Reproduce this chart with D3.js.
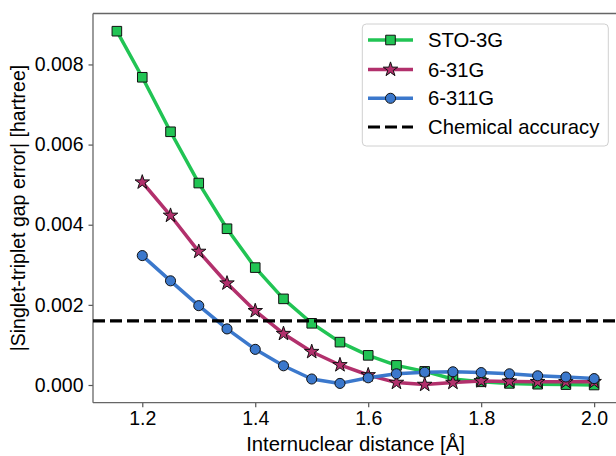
<!DOCTYPE html>
<html>
<head>
<meta charset="utf-8">
<script src="https://cdn.jsdelivr.net/npm/d3@7"></script>
<style>
  body { margin: 0; background: #fff; }
  svg { display: block; font-family: "Liberation Sans", Arial, sans-serif; }
</style>
</head>
<body>
<svg id="chart" width="616" height="456"></svg>
<script>
// ---- data ----
const xSTO = [1.155, 1.2, 1.25, 1.3, 1.35, 1.4, 1.45, 1.5, 1.55, 1.6, 1.65, 1.7, 1.75, 1.8, 1.85, 1.9, 1.95, 2.0];
const ySTO = [0.00883, 0.00768, 0.00632, 0.00504, 0.0039, 0.00293, 0.00215, 0.00154, 0.00107, 0.00074, 0.00049, 0.00034, 0.00015, 0.00008, 0.00004, 0.00002, 0.00001, 0.0];
const x631 = [1.2, 1.25, 1.3, 1.35, 1.4, 1.45, 1.5, 1.55, 1.6, 1.65, 1.7, 1.75, 1.8, 1.85, 1.9, 1.95, 2.0];
const y631 = [0.00506, 0.00423, 0.00333, 0.00254, 0.00185, 0.00128, 0.00083, 0.0005, 0.00025, 0.00006, 0.00001, 0.00006, 0.0001, 0.00009, 0.00008, 0.00008, 0.00008];
const x6311 = [1.2, 1.25, 1.3, 1.35, 1.4, 1.45, 1.5, 1.55, 1.6, 1.65, 1.7, 1.75, 1.8, 1.85, 1.9, 1.95, 2.0];
const y6311 = [0.00323, 0.0026, 0.00198, 0.0014, 0.00089, 0.00048, 0.00015, 0.00004, 0.00018, 0.00028, 0.00032, 0.00033, 0.00031, 0.00028, 0.00023, 0.0002, 0.00016];
const chemAcc = 0.0016;
const seriesNames = ["STO-3G", "6-31G", "6-311G"];
const accName = "Chemical accuracy";
const xTicks = [1.2, 1.4, 1.6, 1.8, 2.0];
const yTicks = [0.000, 0.002, 0.004, 0.006, 0.008];
const xLabel = "Internuclear distance [Å]";
const yLabel = "|Singlet-triplet gap error| [hartree]";

// ---- styles ----
const colors = ["#21c454", "#b2306c", "#3b78cc"];
const shapes = ["square", "star", "circle"];
const FS = 19.5, FL = 20.3;

const svg = d3.select("#chart");
const L = 93, R = 618, T = 13.5, B = 402.7;

const xmin = 1.155, xmax = 2.0, xpad = (xmax - xmin) * 0.05;
const x = d3.scaleLinear().domain([xmin - xpad, xmax + xpad]).range([L, R]);
const ymaxD = 0.00883, ypad = ymaxD * 0.05;
const y = d3.scaleLinear().domain([-ypad, ymaxD + ypad]).range([B, T]);

const series = [
  { name: seriesNames[0], xs: xSTO, ys: ySTO },
  { name: seriesNames[1], xs: x631, ys: y631 },
  { name: seriesNames[2], xs: x6311, ys: y6311 }
];

function markerPath(shape) {
  if (shape === "square") return d3.symbol(d3.symbolSquare, 92)();
  if (shape === "circle") return d3.symbol(d3.symbolCircle, 80)();
  const ro = 7.6, ri = ro * 0.381966;
  const pts = [];
  for (let i = 0; i < 10; i++) {
    const r = i % 2 === 0 ? ro : ri;
    const a = -Math.PI / 2 + i * Math.PI / 5;
    pts.push([r * Math.cos(a), r * Math.sin(a)]);
  }
  return "M" + pts.map(p => p[0].toFixed(2) + "," + p[1].toFixed(2)).join("L") + "Z";
}

// axes
const gx = svg.append("g").attr("transform", `translate(0,${B})`)
  .call(d3.axisBottom(x).tickValues(xTicks).tickFormat(d3.format(".1f")).tickSize(4.5).tickPadding(4));
const gy = svg.append("g").attr("transform", `translate(${L},0)`)
  .call(d3.axisLeft(y).tickValues(yTicks).tickFormat(d3.format(".3f")).tickSize(4.5).tickPadding(5));
[gx, gy].forEach(g => {
  g.select(".domain").remove();
  g.selectAll(".tick line").attr("stroke", "#555").attr("stroke-width", 1.2);
  g.selectAll(".tick text").attr("fill", "#000").style("font-size", FS + "px")
    .style("font-family", '"Liberation Sans", Arial, sans-serif');
});

// spines
svg.append("line").attr("x1", L).attr("x2", L).attr("y1", T).attr("y2", B).attr("stroke", "#666").attr("stroke-width", 1.3);
svg.append("line").attr("x1", L).attr("x2", 616).attr("y1", B).attr("y2", B).attr("stroke", "#666").attr("stroke-width", 1.3);
svg.append("line").attr("x1", L).attr("x2", 616).attr("y1", T).attr("y2", T).attr("stroke", "#666").attr("stroke-width", 1.3);

// series
const line = d3.line().x(d => x(d[0])).y(d => y(d[1]));
series.forEach((s, i) => {
  const pts = s.xs.map((v, k) => [v, s.ys[k]]);
  const g = svg.append("g");
  g.append("path").datum(pts).attr("d", line).attr("fill", "none")
    .attr("stroke", colors[i]).attr("stroke-width", 3.5).attr("stroke-linejoin", "round");
  g.selectAll("path.m").data(pts).join("path").attr("class", "m")
    .attr("d", markerPath(shapes[i]))
    .attr("transform", d => `translate(${x(d[0])},${y(d[1])})`)
    .attr("fill", colors[i]).attr("stroke", "#111").attr("stroke-width", 1);
});

// chemical accuracy line
svg.append("line").attr("x1", L).attr("x2", 616).attr("y1", y(chemAcc)).attr("y2", y(chemAcc))
  .attr("stroke", "#000").attr("stroke-width", 3.2).attr("stroke-dasharray", "12,5");

// axis labels
svg.append("text").attr("x", (L + R) / 2).attr("y", 451).attr("text-anchor", "middle")
  .style("font-size", FL + "px").text(xLabel);
svg.append("text").attr("transform", `translate(25,${(T + B) / 2}) rotate(-90)`).attr("text-anchor", "middle")
  .style("font-size", FS + "px").text(yLabel);

// legend
const lg = svg.append("g");
lg.append("rect").attr("x", 362.3).attr("y", 24).attr("width", 246).attr("height", 122).attr("rx", 4)
  .attr("fill", "#fff").attr("fill-opacity", 0.8).attr("stroke", "#d0d0d0").attr("stroke-width", 1);
const rowY = [40, 69.5, 98.3, 127];
series.forEach((s, i) => {
  lg.append("line").attr("x1", 368).attr("x2", 413).attr("y1", rowY[i]).attr("y2", rowY[i])
    .attr("stroke", colors[i]).attr("stroke-width", 3.5);
  lg.append("path").attr("d", markerPath(shapes[i])).attr("transform", `translate(390.5,${rowY[i]})`)
    .attr("fill", colors[i]).attr("stroke", "#111").attr("stroke-width", 1);
  lg.append("text").attr("x", 428).attr("y", rowY[i] + 7).style("font-size", FL + "px").text(s.name);
});
lg.append("line").attr("x1", 368).attr("x2", 413).attr("y1", rowY[3]).attr("y2", rowY[3])
  .attr("stroke", "#000").attr("stroke-width", 3.2).attr("stroke-dasharray", "12,5");
lg.append("text").attr("x", 428).attr("y", rowY[3] + 7).style("font-size", FL + "px").text(accName);
</script>
</body>
</html>
